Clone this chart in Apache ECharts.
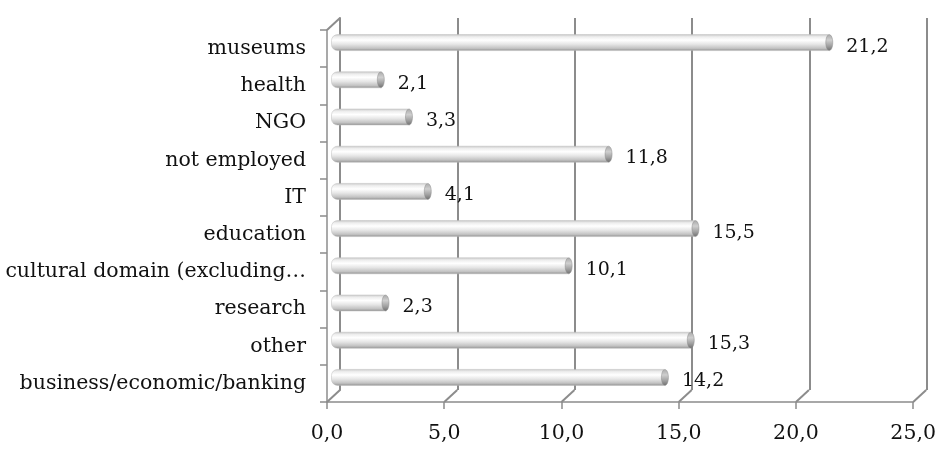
<!DOCTYPE html>
<html>
<head>
<meta charset="utf-8">
<script src="https://cdn.jsdelivr.net/npm/echarts@6/dist/echarts.min.js"></script>
<style>html,body{margin:0;padding:0;background:#fff}#c{width:939px;height:450px}</style>
</head>
<body>
<div id="c"></div>
<script>
// ---- data ----
const categories = [
  'business/economic/banking',
  'other',
  'research',
  'cultural domain (excluding…',
  'education',
  'IT',
  'not employed',
  'NGO',
  'health',
  'museums'
];
const values = [14.2, 15.3, 2.3, 10.1, 15.5, 4.1, 11.8, 3.3, 2.1, 21.2];
const xTicks = [0, 5, 10, 15, 20, 25];
const xMin = 0, xMax = 25, xStep = 5;

// ---- layout ----
const FRONT = { left: 327, top: 30, width: 587, height: 372 };
const DX = 13, DY = -12;               // 3D depth offset (front -> back wall)
const FONT = 'DejaVu Serif';
const fmt = v => v.toFixed(1).replace('.', ',');

const grids = [
  { left: FRONT.left, top: FRONT.top, width: FRONT.width, height: FRONT.height },
  { left: FRONT.left + DX, top: FRONT.top + DY, width: FRONT.width, height: FRONT.height },
  { left: FRONT.left + DX / 2, top: FRONT.top + DY / 2, width: FRONT.width, height: FRONT.height }
];

const lineCol = '#8c8c8c';

const chart = echarts.init(document.getElementById('c'), null, { renderer: 'canvas' });
chart.setOption({
  animation: false,
  backgroundColor: '#fff',
  grid: grids,
  xAxis: [
    { gridIndex: 0, type: 'value', min: xMin, max: xMax, interval: xStep,
      axisLine: { show: true, lineStyle: { color: lineCol, width: 1.5 } },
      axisTick: { show: true, length: 7, lineStyle: { color: lineCol, width: 1.5 } },
      splitLine: { show: false },
      axisLabel: { formatter: v => fmt(v), color: '#111', fontFamily: FONT, fontSize: 20.5, margin: 21 } },
    { gridIndex: 1, type: 'value', min: xMin, max: xMax, interval: xStep,
      axisLine: { show: false }, axisTick: { show: false }, axisLabel: { show: false },
      splitLine: { show: true, lineStyle: { color: lineCol, width: 2 } } },
    { gridIndex: 2, type: 'value', min: xMin, max: xMax, interval: xStep, show: false }
  ],
  yAxis: [
    { gridIndex: 0, type: 'category', data: categories,
      axisLine: { show: true, lineStyle: { color: lineCol, width: 1.5 } },
      axisTick: { show: true, length: 7, lineStyle: { color: lineCol, width: 1.5 } },
      axisLabel: { color: '#111', fontFamily: FONT, fontSize: 20.5, margin: 21 } },
    { gridIndex: 1, type: 'category', data: categories,
      axisLine: { show: true, lineStyle: { color: lineCol, width: 2 } },
      axisTick: { show: false }, axisLabel: { show: false }, splitLine: { show: false } },
    { gridIndex: 2, type: 'category', data: categories, show: false }
  ],
  series: [
    // 3D floor/corner connectors from front axes to the back wall
    { type: 'custom', xAxisIndex: 0, yAxisIndex: 0, silent: true, z: 1,
      data: xTicks.map(v => [v]),
      renderItem: function (params, api) {
        const cs = params.coordSys;
        const p = api.coord([api.value(0), 0]);
        const bottom = cs.y + cs.height;
        const children = [{
          type: 'line',
          shape: { x1: p[0], y1: bottom, x2: p[0] + DX, y2: bottom + DY },
          style: { stroke: lineCol, lineWidth: 2 }
        }];
        if (params.dataIndex === 0) {
          children.push({
            type: 'line',
            shape: { x1: cs.x, y1: cs.y, x2: cs.x + DX, y2: cs.y + DY },
            style: { stroke: lineCol, lineWidth: 2 }
          });
        }
        return { type: 'group', children: children };
      }
    },
    // cylinder bars
    { type: 'custom', xAxisIndex: 2, yAxisIndex: 2, z: 5,
      data: values.map((v, i) => [v, i]),
      renderItem: function (params, api) {
        const v = api.value(0);
        const s = api.coord([0, api.value(1)]);
        const e = api.coord([v, api.value(1)]);
        const h = 16;
        const y0 = s[1] - h / 2;
        const body = {
          type: 'rect',
          shape: { x: s[0] - 2, y: y0, width: e[0] - s[0] - 1, height: h, r: [6, 0, 0, 6] },
          style: {
            fill: new echarts.graphic.LinearGradient(0, 0, 0, 1, [
              { offset: 0, color: '#c8c8c8' },
              { offset: 0.15, color: '#ededed' },
              { offset: 0.35, color: '#ffffff' },
              { offset: 0.6, color: '#e6e6e6' },
              { offset: 0.85, color: '#c2c2c2' },
              { offset: 1, color: '#8f8f8f' }
            ]),
            stroke: '#bdbdbd', lineWidth: 0.5
          }
        };
        const cap = {
          type: 'ellipse',
          shape: { cx: e[0] - 2, cy: s[1], rx: 3.5, ry: h / 2 },
          style: {
            fill: new echarts.graphic.LinearGradient(0, 0, 0, 1, [
              { offset: 0, color: '#a8a8a8' },
              { offset: 0.35, color: '#cfcfcf' },
              { offset: 0.7, color: '#a0a0a0' },
              { offset: 1, color: '#6e6e6e' }
            ]),
            stroke: '#8a8a8a', lineWidth: 0.5
          }
        };
        const label = {
          type: 'text',
          style: {
            text: fmt(v), x: e[0] + 15, y: s[1] + 4,
            fill: '#111', font: '19px "' + FONT + '"',
            textAlign: 'left', textVerticalAlign: 'middle'
          },
          z2: 10
        };
        return { type: 'group', children: [body, cap, label] };
      }
    }
  ]
});
</script>
</body>
</html>
